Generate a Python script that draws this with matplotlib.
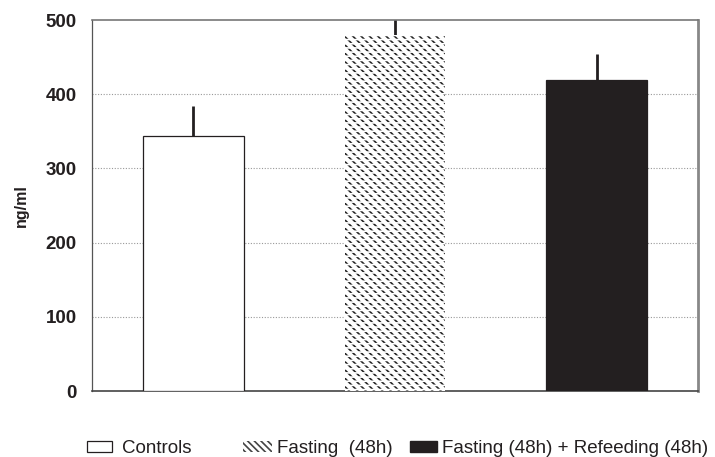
import matplotlib
matplotlib.use("Agg")
import matplotlib.pyplot as plt
from matplotlib.patches import Patch

plt.rcParams['font.family'] = ['Liberation Sans', 'DejaVu Sans']
plt.rcParams['hatch.linewidth'] = 1.2

groups = ["Controls", "Fasting  (48h)", "Fasting (48h) + Refeeding (48h)"]
means = [344, 480, 419]
errors = [40, 35, 35]
yticks = [0, 100, 200, 300, 400, 500]

W, H = 715, 457
fig = plt.figure(figsize=(W / 100, H / 100), dpi=100)
ax = fig.add_axes([0.1287, 0.1444, 0.8475, 0.8118])

x = list(range(len(means)))
# Controls
ax.bar(x[0], means[0], width=0.5, color='white', edgecolor='#231f20', linewidth=0.9, zorder=3)
# Fasting: hatched
ax.bar(x[1], means[1], width=0.5, color='white', edgecolor='#222222', hatch='\\\\\\\\',
       linewidth=0, zorder=3)
ax.bar(x[1], means[1], width=0.5, color='none', edgecolor='white', hatch='----',
       linewidth=0, zorder=3.1)
# Refeeding
ax.bar(x[2], means[2], width=0.5, color='#231f20', edgecolor='#231f20', linewidth=0.9, zorder=3)

ax.errorbar(x, means, yerr=[[0]*len(means), errors], fmt='none', ecolor='#231f20',
            elinewidth=2, capsize=0, zorder=2)

ax.set_xlim(-0.5, 2.5)
ax.set_ylim(0, 500)
ax.set_yticks(yticks)
ax.set_yticklabels([str(t) for t in yticks], fontsize=13.5, fontweight='bold', color='#231f20')
ax.set_xticks([])
ax.tick_params(axis='y', length=0, pad=11)
for t in yticks[1:-1]:
    ax.axhline(t, color='#999999', lw=0.8, ls=(0, (1, 1.5)), zorder=1)

ax.spines['left'].set_color('#555555')
ax.spines['left'].set_linewidth(0.9)
ax.spines['bottom'].set_color('#444444')
ax.spines['bottom'].set_linewidth(1.2)
ax.spines['top'].set_color('#777777')
ax.spines['top'].set_linewidth(1.2)
ax.spines['right'].set_color('#888888')
ax.spines['right'].set_linewidth(2.0)

ax.set_ylabel('ng/ml', fontsize=11.5, fontweight='bold', labelpad=12, color='#231f20')

handles = [
    Patch(facecolor='white', edgecolor='#231f20', linewidth=0.9),
    Patch(facecolor='white', edgecolor='#444444', hatch='\\\\\\\\\\', linewidth=0),
    Patch(facecolor='#231f20', edgecolor='#231f20'),
]
legend_left_px = [87, 243, 410]
handle_lengths = [1.33, 1.55, 1.44]
text_pads = [0.53, 0.27, 0.27]
for h, lab, lx, hl, tp in zip(handles, groups, legend_left_px, handle_lengths, text_pads):
    fig.legend([h], [lab], loc='center left', bbox_to_anchor=(lx / W, 1 - 448.5 / H),
               frameon=False, fontsize=13.5, handlelength=hl, handleheight=0.55,
               handletextpad=tp, borderaxespad=0, borderpad=0,
               labelcolor='#231f20')

fig.savefig('out.png', dpi=100)
